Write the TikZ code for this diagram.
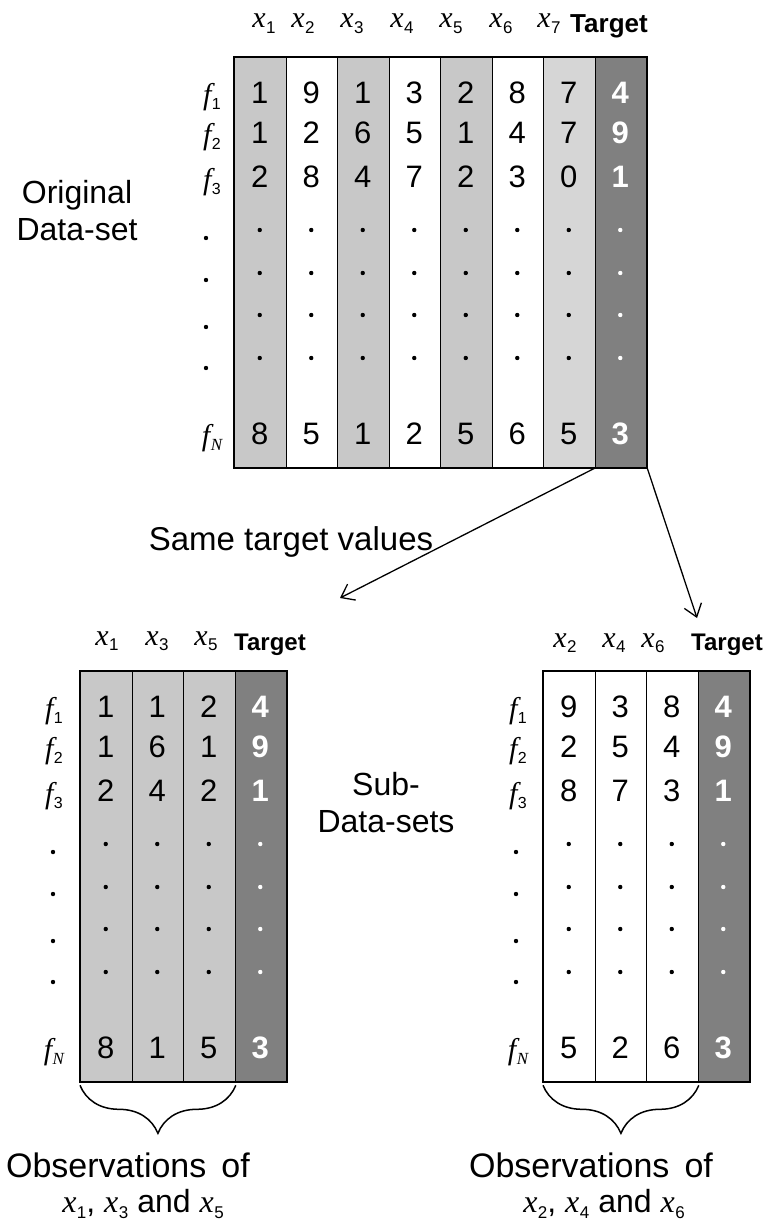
\documentclass[tikz,border=0pt]{standalone}
\usepackage{fontspec}
\setmainfont{Liberation Sans}
\newfontfamily\serif{Liberation Serif}
\usetikzlibrary{arrows.meta,decorations.pathreplacing}
\definecolor{lg}{RGB}{200,200,200}
\definecolor{dg}{RGB}{128,128,128}
\definecolor{tx}{RGB}{214,214,214}
% italic variable with small upright subscript
\newcommand\vr[3][17]{{\serif\itshape #2}\kern0.5pt\raisebox{-0.18em}{\fontsize{#1}{#1}\selectfont #3}}
\tikzset{
 colbox/.style={draw=black,line width=1.3pt,minimum width=51.5pt,minimum height=410pt,inner sep=0pt,anchor=north west},
 digit/.style={font=\fontsize{31}{32}\selectfont,inner sep=0pt},
 tdigit/.style={font=\fontsize{31}{32}\selectfont\bfseries,text=white,inner sep=0pt},
 hdr/.style={font=\fontsize{30}{32}\selectfont,inner sep=0pt,anchor=base},
 thdr/.style={font=\fontsize{24}{26}\selectfont\bfseries,inner sep=0pt,anchor=base},
 rlab/.style={font=\fontsize{30}{32}\selectfont,inner sep=0pt},
 lbl/.style={font=\fontsize{32}{37}\selectfont,align=center,inner sep=0pt},
 dotc/.style={circle,fill=black,inner sep=0pt,minimum size=4.4pt},
 wdot/.style={dotc,fill=white},
 conn/.style={line width=1.3pt,-{Straight Barb[length=12pt,width=18pt,line width=1.3pt]}},
 brc/.style={decorate,decoration={brace,amplitude=48pt,mirror},line width=1.5pt},
 outer/.style={line width=1.8pt},
}
% name, left, top, fill options, digit style, dot style, digits
\newcommand\tcol[7]{%
  \node[colbox,#4] (#1) at (#2,#3) {};
  \foreach \d [count=\k] in {#7}{
    \pgfmathsetmacro\yo{{36,76,120,377}[\k-1]}
    \node[#5] (#1-v\k) at (#2+25.75,#3+\yo) {\d};
  }
  \foreach \yo [count=\k] in {173,216,258,301}{
    \node[#6] (#1-d\k) at (#2+25.75,#3+\yo) {};
  }
}
% prefix, label x, dot x, top
\newcommand\rowlabels[4]{%
  \node[rlab] (#1-f1) at (#2,#4+40) {\vr[16]{f}{1}};
  \node[rlab] (#1-f2) at (#2,#4+80) {\vr[16]{f}{2}};
  \node[rlab] (#1-f3) at (#2,#4+125) {\vr[16]{f}{3}};
  \node[rlab] (#1-fN) at (#2,#4+381) {\vr[17]{f}{\serif\itshape N}};
  \foreach \yo [count=\k] in {181,223,270,311}{
    \node[dotc] (#1-r\k) at (#3,#4+\yo) {};
  }
}
\begin{document}
\begin{tikzpicture}[x=1pt,y=-1pt]
\useasboundingbox (0,0) rectangle (768,1222);

% ---------- original data-set ----------
\tcol{t1}{234}{57}{fill=lg}{digit}{dotc}{1,1,2,8}
\tcol{t2}{285.5}{57}{fill=white}{digit}{dotc}{9,2,8,5}
\tcol{t3}{337}{57}{fill=lg}{digit}{dotc}{1,6,4,1}
\tcol{t4}{388.5}{57}{fill=white}{digit}{dotc}{3,5,7,2}
\tcol{t5}{440}{57}{fill=lg}{digit}{dotc}{2,1,2,5}
\tcol{t6}{491.5}{57}{fill=white}{digit}{dotc}{8,4,3,6}
\tcol{t7}{543}{57}{fill=tx}{digit}{dotc}{7,7,0,5}
\tcol{t8}{594.5}{57}{fill=dg}{tdigit}{wdot}{4,9,1,3}
\draw[outer] (t1.north west) rectangle (t8.south east);
\rowlabels{t}{212}{206}{57}

\node[hdr] (th1) at (264,28) {\vr{x}{1}};
\node[hdr] (th2) at (303,28) {\vr{x}{2}};
\node[hdr] (th3) at (352,28) {\vr{x}{3}};
\node[hdr] (th4) at (402,28) {\vr{x}{4}};
\node[hdr] (th5) at (451,28) {\vr{x}{5}};
\node[hdr] (th6) at (501,28) {\vr{x}{6}};
\node[hdr] (th7) at (549,28) {\vr{x}{7}};
\node[thdr,font=\fontsize{26}{28}\selectfont\bfseries] (th8) at (609,33) {Target};

\node[lbl] (orig) at (77,211) {Original\\Data-set};

% ---------- arrows ----------
\coordinate (ltip) at (340,598);
\coordinate (rtip) at (697,618);
\draw[conn] (t8.south west) -- (ltip);
\draw[conn] (t8.south east) -- (rtip);
\node[lbl,font=\fontsize{33}{38}\selectfont] (same) at (291,542) {Same target values};

% ---------- left sub data-set ----------
\tcol{a1}{80}{671}{fill=lg}{digit}{dotc}{1,1,2,8}
\tcol{a2}{131.5}{671}{fill=lg}{digit}{dotc}{1,6,4,1}
\tcol{a3}{183}{671}{fill=lg}{digit}{dotc}{2,1,2,5}
\tcol{a4}{234.5}{671}{fill=dg}{tdigit}{wdot}{4,9,1,3}
\draw[outer] (a1.north west) rectangle (a4.south east);
\rowlabels{a}{54}{53}{671}
\node[hdr] (ah1) at (107,645) {\vr{x}{1}};
\node[hdr] (ah2) at (157,645) {\vr{x}{3}};
\node[hdr] (ah3) at (206,645) {\vr{x}{5}};
\node[thdr] (ah4) at (270,650) {Target};

% ---------- right sub data-set ----------
\tcol{b1}{543}{671}{fill=white}{digit}{dotc}{9,2,8,5}
\tcol{b2}{594.5}{671}{fill=white}{digit}{dotc}{3,5,7,2}
\tcol{b3}{646}{671}{fill=white}{digit}{dotc}{8,4,3,6}
\tcol{b4}{697.5}{671}{fill=dg}{tdigit}{wdot}{4,9,1,3}
\draw[outer] (b1.north west) rectangle (b4.south east);
\rowlabels{b}{518}{516}{671}
\node[hdr] (bh1) at (565,647) {\vr{x}{2}};
\node[hdr] (bh2) at (614,647) {\vr{x}{4}};
\node[hdr] (bh3) at (653,647) {\vr{x}{6}};
\node[thdr] (bh4) at (727,650) {Target};

\node[lbl] (sub) at (386,803) {Sub-\\Data-sets};

% ---------- braces ----------
\draw[brc] ([yshift=-3pt]a1.south west) -- ([yshift=-3pt]a3.south east);
\draw[brc] ([yshift=-3pt]b1.south west) -- ([yshift=-3pt]b3.south east);

\node[lbl,font=\fontsize{34}{35}\selectfont] (obsa) at (143,1186)
  {Observations\, of\hspace*{30pt}\\\fontsize{32}{35}\selectfont\vr{x}{1}, \vr{x}{3} and \vr{x}{5}};
\node[lbl,font=\fontsize{34}{35}\selectfont] (obsb) at (604,1186)
  {Observations\, of\hspace*{26pt}\\\fontsize{32}{35}\selectfont\vr{x}{2}, \vr{x}{4} and \vr{x}{6}};
\end{tikzpicture}
\end{document}
